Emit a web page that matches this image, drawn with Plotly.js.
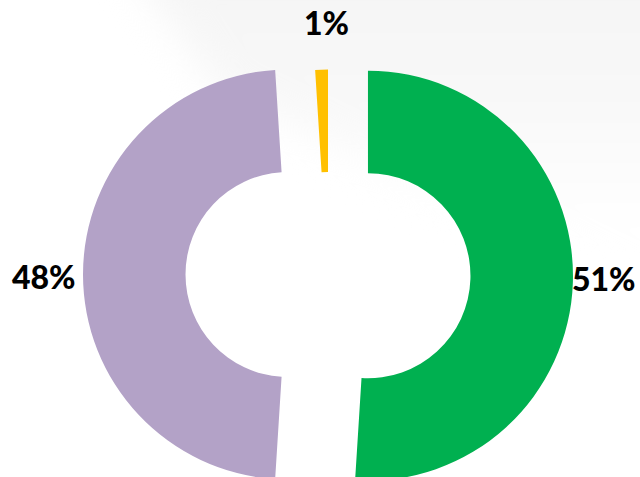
<!DOCTYPE html>
<html>
<head>
<meta charset="utf-8">
<script src="https://cdn.plot.ly/plotly-3.0.1.min.js"></script>
<style>
  html, body { margin: 0; padding: 0; width: 640px; height: 477px; overflow: hidden; background: #ffffff; }
  #bgwrap { position: absolute; left: 0; top: 0; width: 640px; height: 477px; filter: blur(18px); }
  #bg { position: absolute; left: 0; top: -40px; width: 700px; height: 517px;
        background: linear-gradient(to bottom, #f5f5f5 0px, #f8f8f8 130px, #ffffff 270px);
        clip-path: polygon(125px 0px, 700px 0px, 700px 360px, 220px 135px); }
  #chart { position: absolute; left: 0; top: 0; width: 640px; height: 520px; }
</style>
</head>
<body>
<div id="bgwrap"><div id="bg"></div></div>
<div id="chart"></div>
<script>
// Data (clockwise from 12 o'clock)
const categories = ['Green', 'Purple', 'Yellow'];
const values = [51, 48, 1];
const colors = ['#00B050', '#B3A2C7', '#FFC000'];
const pulls = [0.195, 0.195, 0];

const total = values.reduce((a, b) => a + b, 0);
const pctText = values.map(v => Math.round(v / total * 100) + '%');

// label anchor positions in pixels (layout only)
const W = 640, H = 520;
const labelPos = [[604, 278.5], [43.5, 276], [326, 23]];

const trace = {
  type: 'pie',
  labels: categories,
  values: values,
  marker: { colors: colors, line: { width: 0 } },
  hole: 0.5,
  pull: pulls,
  sort: false,
  direction: 'clockwise',
  rotation: 0,
  textinfo: 'none',
  hoverinfo: 'none',
  showlegend: false,
  domain: { x: [83 / W, 573 / W], y: [(H - 519.5) / H, (H - 29.5) / H] }
};

const annotations = pctText.map((t, i) => ({
  text: t,
  xref: 'paper', yref: 'paper',
  x: labelPos[i][0] / W,
  y: (H - labelPos[i][1]) / H,
  xanchor: 'center', yanchor: 'middle',
  showarrow: false,
  font: { family: 'Lato, "Open Sans", sans-serif', size: 32, color: '#000000', weight: 900 }
}));

const layout = {
  width: W, height: H,
  margin: { l: 0, r: 0, t: 0, b: 0, pad: 0 },
  paper_bgcolor: 'rgba(0,0,0,0)',
  plot_bgcolor: 'rgba(0,0,0,0)',
  showlegend: false,
  annotations: annotations
};

Plotly.newPlot('chart', [trace], layout, { displayModeBar: false, staticPlot: true });
</script>
</body>
</html>
